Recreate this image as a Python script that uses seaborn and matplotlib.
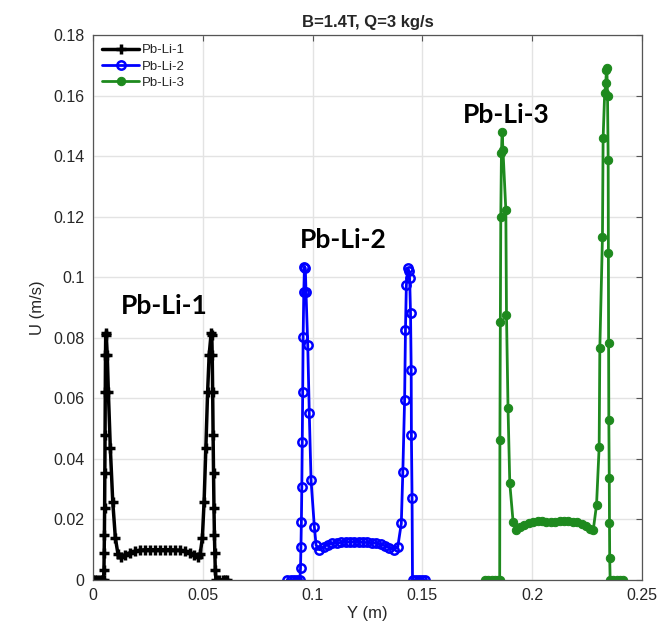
import numpy as np
import pandas as pd
import matplotlib
matplotlib.use('Agg')
import matplotlib.pyplot as plt
from matplotlib.ticker import FuncFormatter
import seaborn as sns

# Pb-Li-1 profile (Y in m, U in m/s)
y1 = [0.0, 0.001, 0.002, 0.003, 0.004, 0.0048,
      0.0050, 0.0051, 0.0052, 0.0053, 0.0054, 0.0055, 0.0056, 0.0057, 0.0058, 0.0060,
      0.0065, 0.0070, 0.0079, 0.0090, 0.0102, 0.0114, 0.0126,
      0.0145, 0.0168, 0.0191, 0.0214, 0.0237, 0.0260, 0.0283, 0.0306, 0.0329,
      0.0352, 0.0375, 0.0398, 0.0421, 0.0444, 0.0462, 0.0476,
      0.0488, 0.0498, 0.0506, 0.0514, 0.0522, 0.0529, 0.0538,
      0.0541, 0.0543, 0.0545, 0.0547, 0.0549, 0.0551, 0.0553, 0.0555, 0.0557,
      0.0560, 0.0575, 0.0590, 0.0600, 0.0610]
u1 = [0, 0, 0, 0, 0, 0,
      0.0033, 0.0088, 0.0149, 0.0237, 0.0352, 0.0479, 0.0622, 0.0743, 0.0810, 0.0815,
      0.0743, 0.0622, 0.0435, 0.0259, 0.0138, 0.0085, 0.0075,
      0.0082, 0.0090, 0.0095, 0.0098, 0.0100, 0.0100, 0.0100, 0.0100, 0.0100,
      0.0100, 0.0099, 0.0098, 0.0095, 0.0090, 0.0082, 0.0075,
      0.0085, 0.0138, 0.0259, 0.0435, 0.0622, 0.0743, 0.0815,
      0.0810, 0.0743, 0.0622, 0.0479, 0.0352, 0.0237, 0.0149, 0.0088, 0.0033,
      0, 0, 0, 0, 0]

# Pb-Li-2 profile
y2 = [0.0885, 0.0900, 0.0915, 0.0930, 0.0942,
      0.0945, 0.0947, 0.0949, 0.0951, 0.0953, 0.0955, 0.0957, 0.0960, 0.0963,
      0.0967, 0.0970, 0.0978, 0.0985, 0.0993, 0.1008, 0.1016, 0.1031,
      0.1050, 0.1070, 0.1090, 0.1110, 0.1130, 0.1150, 0.1170, 0.1190, 0.1210,
      0.1230, 0.1250, 0.1270, 0.1290, 0.1310, 0.1330, 0.1350, 0.1370,
      0.1388, 0.1404, 0.1411, 0.1419, 0.1423, 0.1427, 0.1434,
      0.1438, 0.1442, 0.1446, 0.1449, 0.1450, 0.1453, 0.1455,
      0.1470, 0.1485, 0.1500, 0.1510]
u2 = [0, 0, 0, 0, 0,
      0.0039, 0.0110, 0.0193, 0.0308, 0.0457, 0.0622, 0.0804, 0.0952, 0.1035,
      0.1030, 0.0952, 0.0776, 0.0550, 0.0330, 0.0176, 0.0115, 0.0100,
      0.0110, 0.0117, 0.0121, 0.0123, 0.0124, 0.0125, 0.0125, 0.0125, 0.0125,
      0.0124, 0.0124, 0.0123, 0.0121, 0.0118, 0.0113, 0.0106, 0.0100,
      0.0110, 0.0187, 0.0358, 0.0594, 0.0826, 0.0974, 0.1029,
      0.1020, 0.0996, 0.0881, 0.0694, 0.0479, 0.0270, 0.0,
      0, 0, 0, 0]

# Pb-Li-3 profile
y3 = [0.1784, 0.1800, 0.1815, 0.1830, 0.1845, 0.1852,
      0.1853, 0.1855, 0.1857, 0.1860, 0.1863,
      0.1867, 0.1880, 0.1883, 0.1890, 0.1898, 0.1913, 0.1928,
      0.1945, 0.1965, 0.1985, 0.2005, 0.2025, 0.2045, 0.2065, 0.2085, 0.2105,
      0.2125, 0.2145, 0.2165, 0.2185, 0.2205, 0.2225, 0.2245, 0.2265, 0.2278,
      0.2293, 0.2305, 0.2308, 0.2320, 0.2323, 0.2330, 0.2335, 0.2338, 0.2340,
      0.2343, 0.2346, 0.2347, 0.2348, 0.2349, 0.2351, 0.2352, 0.2353, 0.2355,
      0.2370, 0.2385, 0.2400, 0.2415]
u3 = [0, 0, 0, 0, 0, 0,
      0.0462, 0.0853, 0.1200, 0.1409, 0.1481,
      0.1420, 0.1222, 0.0875, 0.0567, 0.0319, 0.0193, 0.0165,
      0.0175, 0.0183, 0.0189, 0.0193, 0.0195, 0.0194, 0.0192, 0.0191, 0.0192,
      0.0194, 0.0195, 0.0195, 0.0193, 0.0190, 0.0185, 0.0178, 0.0170, 0.0165,
      0.0248, 0.0440, 0.0765, 0.1134, 0.1459, 0.1607, 0.1640, 0.1683, 0.1690,
      0.1600, 0.1387, 0.1079, 0.0782, 0.0528, 0.0336, 0.0187, 0.0072, 0.0,
      0, 0, 0, 0]

names = ['Pb-Li-1', 'Pb-Li-2', 'Pb-Li-3']
colors = ['#000000', '#0000ff', '#1e8a1e']

sns.set_style("whitegrid")
plt.rcParams['font.family'] = ['Liberation Sans', 'DejaVu Sans']

fig = plt.figure(figsize=(6.67, 6.33), dpi=100)
ax = fig.add_axes([0.1394, 0.0837, 0.8231, 0.861])

df1 = pd.DataFrame({'Y': y1, 'U': u1})
df2 = pd.DataFrame({'Y': y2, 'U': u2})
df3 = pd.DataFrame({'Y': y3, 'U': u3})

sns.lineplot(data=df1, x='Y', y='U', sort=False, estimator=None, ax=ax,
             color=colors[0], linewidth=2.5, marker='+', markersize=7,
             markeredgewidth=2.5, markeredgecolor=colors[0], label=names[0])
sns.lineplot(data=df2, x='Y', y='U', sort=False, estimator=None, ax=ax,
             color=colors[1], linewidth=2.0, marker='o', markersize=6,
             markerfacecolor='none', markeredgecolor=colors[1],
             markeredgewidth=1.8, label=names[1])
sns.lineplot(data=df3, x='Y', y='U', sort=False, estimator=None, ax=ax,
             color=colors[2], linewidth=2.0, marker='o', markersize=6,
             markerfacecolor=colors[2], markeredgecolor=colors[2], label=names[2])

ax.set_xlim(0, 0.25)
ax.set_ylim(0, 0.18)
ax.set_xticks(np.arange(0, 0.2501, 0.05))
ax.set_yticks(np.arange(0, 0.1801, 0.02))
fmt = FuncFormatter(lambda v, p: f'{v:.2f}'.rstrip('0').rstrip('.') if v != 0 else '0')
ax.xaxis.set_major_formatter(fmt)
ax.yaxis.set_major_formatter(fmt)
ax.tick_params(direction='in', top=True, right=True, length=4, width=0.8,
               colors='#555555', labelcolor='#262626', labelsize=11.5, pad=6)
ax.grid(True, color='#e3e3e3', linewidth=1.0)
for s in ax.spines.values():
    s.set_color('#555555')
    s.set_linewidth(0.9)

ax.set_xlabel('Y (m)', fontsize=12, color='#262626', labelpad=2)
ax.set_ylabel('U (m/s)', fontsize=12, color='#262626', labelpad=6)
ax.set_title('B=1.4T, Q=3 kg/s', fontsize=12, fontweight='bold', color='#262626', pad=6)

for nm, xx, yy in [('Pb-Li-1', 0.0326, 0.0905), ('Pb-Li-2', 0.114, 0.1123),
                   ('Pb-Li-3', 0.1884, 0.1536)]:
    ax.text(xx, yy, nm, fontsize=19, fontweight='bold', ha='center', va='center',
            family=['Lato', 'DejaVu Sans'], color='#000000')

leg = ax.legend(loc='upper left', fontsize=9.5, frameon=True, fancybox=False,
                framealpha=1, edgecolor='none', handlelength=2.8,
                borderaxespad=0.3, labelspacing=0.3, handletextpad=0.2)

plt.savefig('out.png', dpi=100)
plt.close()
